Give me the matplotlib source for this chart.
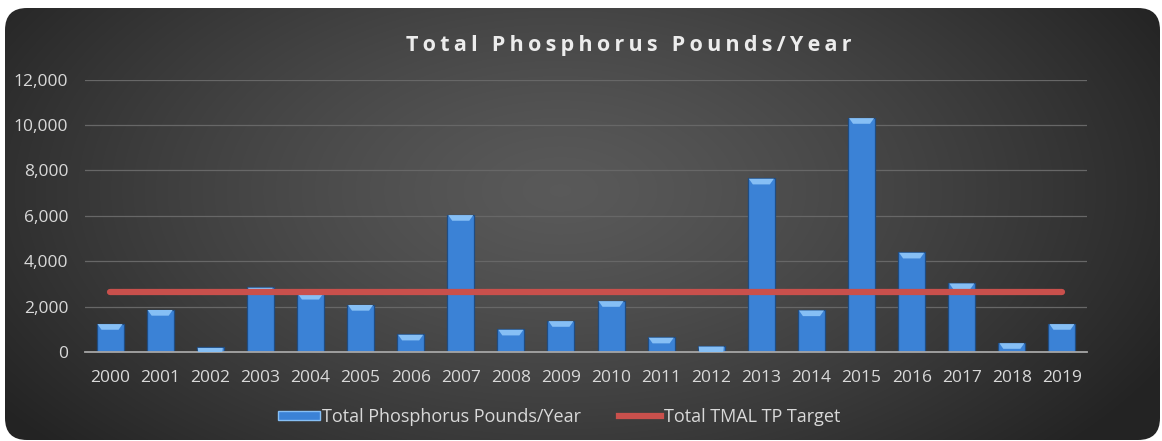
import numpy as np
import matplotlib
matplotlib.use("Agg")
import matplotlib.pyplot as plt
from matplotlib.patches import FancyBboxPatch, Patch
from matplotlib.lines import Line2D
from matplotlib.ticker import FuncFormatter

years = [str(y) for y in range(2000, 2020)]
tp_pounds = [1250, 1870, 200, 2850, 2580, 2090, 780, 6050, 1000, 1380,
             2260, 650, 260, 7650, 1850, 10320, 4390, 3040, 410, 1250]
tmal_target = [2650] * len(years)

title = "Total Phosphorus Pounds/Year"
bar_label = "Total Phosphorus Pounds/Year"
line_label = "Total TMAL TP Target"

W, H = 1162, 441
fig = plt.figure(figsize=(W / 100, H / 100), dpi=100)
fig.patch.set_facecolor("white")

# background rounded panel with radial gradient
bg = fig.add_axes([0, 0, 1, 1])
bg.set_xlim(0, W)
bg.set_ylim(H, 0)
bg.axis("off")
yy, xx = np.mgrid[0:H, 0:W]
r = np.sqrt(((xx - 560) / 680.0) ** 2 + ((yy - 190) / 380.0) ** 2)
r = np.clip(r, 0, 1)
val = 0.35 - 0.21 * r ** 1.3
img = np.dstack([val, val, val])
im = bg.imshow(img, extent=[0, W, H, 0], aspect="auto", zorder=0)
panel = FancyBboxPatch((5, 8), W - 7, H - 9, boxstyle="round,pad=0,rounding_size=22",
                       transform=bg.transData, facecolor="none", edgecolor="none")
bg.add_patch(panel)
im.set_clip_path(panel)

ax = fig.add_axes([85 / W, 1 - 352 / H, (1087 - 85) / W, (352 - 79.5) / H])
ax.set_facecolor("none")
x = np.arange(len(years))
bw = 0.54
ax.bar(x, tp_pounds, width=bw, color="#3b82d6", edgecolor="#1f4c82",
       linewidth=0.9, zorder=2)
# bevel caps (trapezoids) on top of each bar
for xi, v in zip(x, tp_pounds):
    c = min(v, 270)
    inset = 0.1 if v > 270 else 0.03
    xs = [xi - bw / 2 + 0.02, xi + bw / 2 - 0.02, xi + bw / 2 - inset, xi - bw / 2 + inset]
    ys = [v - 20, v - 20, v - c, v - c]
    ax.fill(xs, ys, color="#86bff5", zorder=3, linewidth=0)
ax.plot(x, tmal_target, color="#c9504c", linewidth=4.5, solid_capstyle="round",
        zorder=4)

ax.set_xlim(-0.5, len(years) - 0.5)
ax.set_ylim(0, 12000)
ax.set_yticks(range(0, 12001, 2000))
ax.yaxis.set_major_formatter(FuncFormatter(lambda v, p: f"{int(v):,}"))
ax.set_xticks(x)
ax.set_xticklabels(years)
ax.grid(axis="y", color="#676767", linewidth=0.9, zorder=0)
ax.set_axisbelow(True)
for s in ["top", "right", "left"]:
    ax.spines[s].set_visible(False)
ax.spines["bottom"].set_color("#a6a6a6")
ax.spines["bottom"].set_linewidth(1.3)
ax.tick_params(axis="both", length=0, colors="#d9d9d9", labelsize=12.5)
ax.tick_params(axis="x", pad=13)
ax.tick_params(axis="y", pad=12)
for lbl in ax.get_xticklabels() + ax.get_yticklabels():
    lbl.set_fontfamily("Open Sans")

spaced_title = "\u2009".join(title).replace("\u2009 \u2009", "\u2009\u2009 ")
fig.text(629 / W, 1 - 45 / H, spaced_title, ha="center", va="center",
         color="#ececec", fontsize=15.5, fontweight="bold",
         family=["Open Sans", "DejaVu Sans"])

handles = [Patch(facecolor="#3b82d6", edgecolor="#86bff5", label=bar_label),
           Line2D([0], [0], color="#c9504c", linewidth=4.5, label=line_label)]
leg = fig.legend(handles=handles, loc="center", bbox_to_anchor=(559 / W, 1 - 417 / H),
                 ncol=2, frameon=False, handlelength=2.3, handleheight=0.4,
                 columnspacing=2.1, handletextpad=0.15,
                 prop={"family": "Open Sans", "size": 13})
for t in leg.get_texts():
    t.set_color("#d9d9d9")

fig.savefig("out.png", dpi=100, facecolor="white")
